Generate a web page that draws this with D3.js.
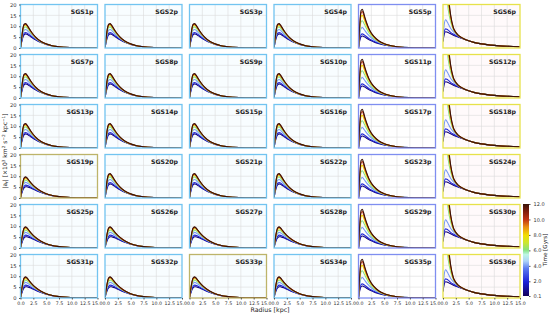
<!DOCTYPE html>
<html>
<head>
<meta charset="utf-8">
<script src="https://cdn.jsdelivr.net/npm/d3@7"></script>
<style>
  body { margin: 0; background: #fff; }
  text { font-family: "DejaVu Sans", sans-serif; }
</style>
</head>
<body>
<script>
/* Data */
const panelNames = [
  "SGS1p", "SGS2p", "SGS3p", "SGS4p", "SGS5p", "SGS6p",
  "SGS7p", "SGS8p", "SGS9p", "SGS10p", "SGS11p", "SGS12p",
  "SGS13p", "SGS14p", "SGS15p", "SGS16p", "SGS17p", "SGS18p",
  "SGS19p", "SGS20p", "SGS21p", "SGS22p", "SGS23p", "SGS24p",
  "SGS25p", "SGS26p", "SGS27p", "SGS28p", "SGS29p", "SGS30p",
  "SGS31p", "SGS32p", "SGS33p", "SGS34p", "SGS35p", "SGS36p"
];
// which profile family each panel follows
const panelProfile = [
  "A", "A", "A", "A", "D", "E",
  "A", "A", "A", "A", "D", "E",
  "A", "A", "A", "A", "D", "E",
  "C", "A", "A", "A", "D", "E",
  "C", "C", "C", "C", "D", "E",
  "C", "C", "C", "C", "D", "E"
];
const radii = [0, 0.25, 0.5, 0.75, 1, 1.25, 1.5, 2, 2.5, 3, 4, 5, 6, 7.5, 10, 12.5, 15];
const times = [0.5, 2, 4, 6, 8, 10, 12];

// |a_r| values (x10^3 km^2 s^-2 kpc^-1), one row per time
const profileA = [
  [0, 3.0, 5.2, 6.2, 6.5, 6.3, 6.0, 5.2, 4.4, 3.7, 2.5, 1.6, 1.05, 0.55, 0.2, 0.08, 0.03],
  [0, 3.3, 5.8, 6.9, 7.1, 6.9, 6.5, 5.6, 4.7, 3.9, 2.6, 1.7, 1.1, 0.55, 0.2, 0.08, 0.03],
  [0, 4.0, 7.0, 8.3, 8.5, 8.2, 7.6, 6.4, 5.2, 4.2, 2.7, 1.75, 1.1, 0.55, 0.2, 0.08, 0.03],
  [0, 4.6, 8.0, 9.5, 9.7, 9.3, 8.6, 7.1, 5.7, 4.5, 2.8, 1.8, 1.1, 0.55, 0.2, 0.08, 0.03],
  [0, 5.0, 8.8, 10.3, 10.5, 10.0, 9.2, 7.5, 6.0, 4.7, 2.9, 1.85, 1.15, 0.55, 0.2, 0.08, 0.03],
  [0, 5.2, 9.2, 10.8, 11.0, 10.4, 9.5, 7.7, 6.1, 4.8, 2.95, 1.85, 1.15, 0.55, 0.2, 0.08, 0.03],
  [0, 5.3, 9.4, 11.0, 11.2, 10.6, 9.7, 7.8, 6.2, 4.85, 3.0, 1.9, 1.15, 0.55, 0.2, 0.08, 0.03]
];
const profileC = [
  [0, 2.2, 3.9, 4.8, 5.2, 5.2, 5.0, 4.6, 4.0, 3.5, 2.5, 1.7, 1.15, 0.6, 0.22, 0.09, 0.04],
  [0, 2.6, 4.5, 5.5, 5.9, 5.8, 5.6, 5.0, 4.3, 3.7, 2.6, 1.8, 1.2, 0.62, 0.22, 0.09, 0.04],
  [0, 3.2, 5.6, 6.8, 7.2, 7.0, 6.6, 5.8, 4.9, 4.1, 2.8, 1.9, 1.25, 0.63, 0.22, 0.09, 0.04],
  [0, 3.6, 6.4, 7.8, 8.2, 8.0, 7.5, 6.4, 5.3, 4.4, 2.95, 1.95, 1.3, 0.64, 0.22, 0.09, 0.04],
  [0, 4.0, 7.1, 8.7, 9.0, 8.7, 8.1, 6.8, 5.6, 4.6, 3.05, 2.0, 1.3, 0.65, 0.22, 0.09, 0.04],
  [0, 4.2, 7.5, 9.2, 9.5, 9.1, 8.4, 7.0, 5.7, 4.7, 3.1, 2.0, 1.3, 0.65, 0.22, 0.09, 0.04],
  [0, 4.3, 7.7, 9.4, 9.7, 9.3, 8.6, 7.1, 5.8, 4.75, 3.1, 2.0, 1.3, 0.65, 0.22, 0.09, 0.04]
];
const profileD = [
  [0, 3.5, 5.2, 5.5, 5.3, 5.0, 4.6, 3.9, 3.3, 2.8, 2.0, 1.4, 1.0, 0.55, 0.2, 0.08, 0.03],
  [0, 4.2, 6.2, 6.5, 6.2, 5.8, 5.3, 4.4, 3.7, 3.1, 2.2, 1.5, 1.05, 0.56, 0.2, 0.08, 0.03],
  [0, 6.0, 9.0, 9.4, 8.8, 8.0, 7.2, 5.8, 4.7, 3.8, 2.5, 1.7, 1.1, 0.57, 0.2, 0.08, 0.03],
  [0, 8.0, 12.0, 12.5, 11.6, 10.4, 9.2, 7.2, 5.6, 4.4, 2.8, 1.8, 1.15, 0.58, 0.2, 0.08, 0.03],
  [0, 9.5, 14.5, 15.0, 13.8, 12.2, 10.7, 8.2, 6.3, 4.9, 3.0, 1.9, 1.2, 0.6, 0.2, 0.08, 0.03],
  [0, 10.5, 16.2, 16.8, 15.3, 13.4, 11.7, 8.8, 6.7, 5.2, 3.1, 2.0, 1.25, 0.6, 0.2, 0.08, 0.03],
  [0, 11.0, 17.2, 17.8, 16.2, 14.1, 12.2, 9.1, 6.9, 5.3, 3.2, 2.0, 1.25, 0.6, 0.2, 0.08, 0.03]
];
const profileE = [
  [3, 6.5, 7.5, 7.4, 7.1, 6.8, 6.5, 5.9, 5.4, 5.0, 4.2, 3.3, 2.6, 1.9, 1.2, 0.8, 0.55],
  [3, 7.5, 8.8, 8.6, 8.2, 7.7, 7.2, 6.4, 5.7, 5.1, 4.2, 3.3, 2.6, 1.9, 1.2, 0.8, 0.55],
  [5, 11, 13, 12.3, 11.2, 10.0, 9.0, 7.5, 6.4, 5.5, 4.3, 3.3, 2.6, 1.9, 1.2, 0.8, 0.55],
  [30, 35, 30, 23, 18, 14.5, 12, 8.5, 6.8, 5.6, 4.3, 3.3, 2.6, 1.9, 1.2, 0.8, 0.55],
  [45, 45, 38, 28, 21, 17, 13.5, 9.0, 7.0, 5.7, 4.3, 3.3, 2.6, 1.9, 1.2, 0.8, 0.55],
  [55, 52, 42, 30, 23, 18.5, 14.5, 9.3, 7.1, 5.75, 4.3, 3.3, 2.6, 1.9, 1.2, 0.8, 0.55],
  [60, 55, 45, 32, 24, 19.5, 15, 9.5, 7.2, 5.8, 4.3, 3.3, 2.6, 1.9, 1.2, 0.8, 0.55]
];
const profiles = { A: profileA, C: profileC, D: profileD, E: profileE };

const xTicks = [0, 2.5, 5, 7.5, 10, 12.5, 15];
const yTicks = [0, 5, 10, 15, 20];
const timeTicks = [0.1, 2, 4, 6, 8, 10, 12];
const greenFramed = ["SGS19p", "SGS33p"];

/* Layout */
const width = 550, height = 315;
const panelW = 77, panelH = 43.5;
const nCols = 6;

const svg = d3.select("body").append("svg")
  .attr("width", width)
  .attr("height", height);

const x = d3.scaleLinear().domain([0, 15]).range([0, panelW]);
const y = d3.scaleLinear().domain([0, 20]).range([panelH, 0]);

// Time colour map (dark navy -> blue -> pale cyan -> green -> yellow -> red -> brown)
const cmapStops = ["#14005c", "#1b1fd6", "#5c7cf0", "#aed4f8", "#bdf6e6", "#86e27e",
  "#cce62e", "#f2de00", "#e88e12", "#c23412", "#7e1c0c", "#3a1408"];
const cmapPos = [0, 0.15, 0.3, 0.38, 0.45, 0.5, 0.58, 0.66, 0.75, 0.83, 0.92, 1];
const timeNorm = d3.scaleLinear().domain([0.1, 12]).range([0, 1]);
const cmap = d3.scaleLinear().domain(cmapPos).range(cmapStops).interpolate(d3.interpolateRgb);
const timeColor = t => cmap(timeNorm(t));

const line = d3.line()
  .x(d => x(d[0]))
  .y(d => y(d[1]))
  .curve(d3.curveMonotoneX);

function frameColor(name, col) {
  if (greenFramed.includes(name)) return "#bdb46a";
  if (col === 5) return "#e6e24a";
  if (col === 4) return "#7f8ef0";
  return "#72c4f0";
}

function bgColor(col) {
  if (col === 5) return "#fffafb";
  if (col === 4) return "#ffffff";
  return "#f8fdff";
}

const defs = svg.append("defs");

panelNames.forEach(function(name, i) {
  const col = i % nCols;
  const row = Math.floor(i / nCols);
  const left = 20.5 + col * 84.5;
  const top = 4.5 + row * 50;
  const g = svg.append("g").attr("transform", `translate(${left},${top})`);

  g.append("rect")
    .attr("width", panelW)
    .attr("height", panelH)
    .attr("fill", bgColor(col));

  // grid
  g.append("g")
    .selectAll("line")
    .data(xTicks.slice(1, -1))
    .join("line")
    .attr("x1", d => x(d)).attr("x2", d => x(d))
    .attr("y1", 0).attr("y2", panelH)
    .attr("stroke", "#dcdcdc").attr("stroke-width", 0.6);
  g.append("g")
    .selectAll("line")
    .data(yTicks.slice(1, -1))
    .join("line")
    .attr("y1", d => y(d)).attr("y2", d => y(d))
    .attr("x1", 0).attr("x2", panelW)
    .attr("stroke", "#dcdcdc").attr("stroke-width", 0.6);

  const clipId = `clip-${i}`;
  defs.append("clipPath").attr("id", clipId)
    .append("rect").attr("width", panelW).attr("height", panelH);

  const curves = profiles[panelProfile[i]].map((vals, k) => ({
    time: times[k],
    points: radii.map((r, j) => [r, vals[j]])
  }));

  g.append("g")
    .attr("clip-path", `url(#${clipId})`)
    .selectAll("path")
    .data(curves)
    .join("path")
    .attr("d", d => line(d.points))
    .attr("fill", "none")
    .attr("stroke", d => timeColor(d.time))
    .attr("stroke-width", 1.1);

  g.append("rect")
    .attr("width", panelW)
    .attr("height", panelH)
    .attr("fill", "none")
    .attr("stroke", frameColor(name, col))
    .attr("stroke-width", 1.3);

  g.append("text")
    .attr("x", panelW - 4)
    .attr("y", 9)
    .attr("text-anchor", "end")
    .attr("font-size", 6.2)
    .attr("font-weight", 600)
    .attr("fill", "#222")
    .text(name);

  if (col === 0) {
    const ay = g.append("g")
      .call(d3.axisLeft(y).tickValues(yTicks).tickSize(1.5).tickFormat(d3.format("d")));
    ay.select(".domain").remove();
    ay.selectAll("text").attr("font-size", 5.2).attr("fill", "#333").attr("dx", "0.1em");
    ay.selectAll("line").attr("stroke", "#555");
  }
  if (row === 5) {
    const ax = g.append("g")
      .attr("transform", `translate(0,${panelH})`)
      .call(d3.axisBottom(x).tickValues(xTicks).tickSize(1.5).tickFormat(d3.format(".1f")));
    ax.select(".domain").remove();
    ax.selectAll("text")
      .attr("font-size", 4.7)
      .attr("fill", "#333")
      .attr("dy", "0.6em")
      // nudge the edge labels so neighbouring panels' "15.0" and "0.0" just touch
      .attr("dx", d => (d === 15 && col < 5) ? -0.8 : (d === 0 && col > 0) ? 0.8 : 0);
    ax.selectAll("line").attr("stroke", "#555");
  }
});

// Axis titles
svg.append("text")
  .attr("x", 270)
  .attr("y", 312)
  .attr("text-anchor", "middle")
  .attr("font-size", 6.3)
  .attr("fill", "#222")
  .text("Radius [kpc]");

const yTitle = svg.append("text")
  .attr("transform", "translate(7,151) rotate(-90)")
  .attr("text-anchor", "middle")
  .attr("font-size", 6)
  .attr("fill", "#222");
yTitle.append("tspan").text("|a");
yTitle.append("tspan").attr("font-size", 4.2).attr("dy", 1.3).text("r");
yTitle.append("tspan").attr("dy", -1.3).text("| [×10");
yTitle.append("tspan").attr("font-size", 4.2).attr("dy", -2.2).text("3");
yTitle.append("tspan").attr("dy", 2.2).text(" km");
yTitle.append("tspan").attr("font-size", 4.2).attr("dy", -2.2).text("2");
yTitle.append("tspan").attr("dy", 2.2).text(" s");
yTitle.append("tspan").attr("font-size", 4.2).attr("dy", -2.2).text("−2");
yTitle.append("tspan").attr("dy", 2.2).text(" kpc");
yTitle.append("tspan").attr("font-size", 4.2).attr("dy", -2.2).text("−1");
yTitle.append("tspan").attr("dy", 2.2).text("]");

// Colour bar
const cbX = 523, cbTop = 204, cbH = 92, cbW = 6;
const grad = defs.append("linearGradient")
  .attr("id", "cbar")
  .attr("x1", 0).attr("y1", 1).attr("x2", 0).attr("y2", 0);
grad.selectAll("stop")
  .data(cmapPos)
  .join("stop")
  .attr("offset", d => d)
  .attr("stop-color", (d, k) => cmapStops[k]);

svg.append("rect")
  .attr("x", cbX).attr("y", cbTop)
  .attr("width", cbW).attr("height", cbH)
  .attr("fill", "url(#cbar)");

const cbScale = d3.scaleLinear().domain([0.1, 12]).range([cbTop + cbH, cbTop]);
const cbAxis = svg.append("g")
  .attr("transform", `translate(${cbX + cbW},0)`)
  .call(d3.axisRight(cbScale).tickValues(timeTicks).tickSize(1.5).tickFormat(d3.format(".1f")));
cbAxis.select(".domain").remove();
cbAxis.selectAll("text").attr("font-size", 5).attr("fill", "#333");
cbAxis.selectAll("line").attr("stroke", "#555");

svg.append("text")
  .attr("transform", "translate(547,250) rotate(-90)")
  .attr("text-anchor", "middle")
  .attr("font-size", 5.6)
  .attr("fill", "#222")
  .text("Time [Gyrs]");
</script>
</body>
</html>
